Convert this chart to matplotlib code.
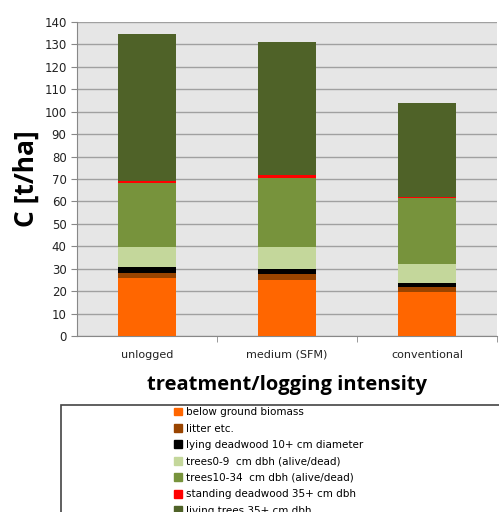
import matplotlib.pyplot as plt
import matplotlib.patches as mpatches
import numpy as np

# treatments on the x axis
treatments = ['unlogged', 'medium (SFM)', 'conventional']

# carbon pools, stacked bottom to top [t/ha]
pools = ['below ground biomass', 'litter etc.', 'lying deadwood 10+ cm diameter',
         'trees0-9  cm dbh (alive/dead)', 'trees10-34  cm dbh (alive/dead)',
         'standing deadwood 35+ cm dbh', 'living trees 35+ cm dbh']
below_ground = [25.7, 24.9, 19.6]
litter = [2.2, 2.6, 2.1]
lying_deadwood = [2.7, 2.2, 1.8]
trees_0_9 = [8.9, 9.8, 8.4]
trees_10_34 = [28.8, 31.0, 29.7]
standing_deadwood = [0.9, 1.2, 0.5]
living_35 = [65.4, 59.4, 42.0]

colors = ['#ff6600', '#994400', '#000000', '#c4d79b', '#77933c', '#ff0000', '#4f6228']

series = [below_ground, litter, lying_deadwood, trees_0_9, trees_10_34,
          standing_deadwood, living_35]

fig = plt.figure(figsize=(4.99, 5.12), dpi=100)
ax = fig.add_axes([77 / 499, 1 - 336 / 512, 420 / 499, 314 / 512])
ax.set_facecolor('#e6e6e6')

x = np.arange(len(treatments))
bottom = np.zeros(len(treatments))
for vals, c in zip(series, colors):
    ax.bar(x, vals, bottom=bottom, width=0.41, color=c, zorder=3)
    bottom += np.array(vals)

ax.set_xlim(-0.5, 2.5)
ax.set_ylim(0, 140)
ax.set_yticks(np.arange(0, 141, 10))
ax.set_xticks(x)
ax.set_xticklabels(treatments, fontsize=8, color='#222222')
ax.set_xticks([0.5, 1.5, 2.5], minor=True)
ax.tick_params(axis='x', which='major', length=0, pad=10)
ax.tick_params(axis='x', which='minor', length=4, color='#888888')
ax.tick_params(axis='y', length=4, color='#888888', labelsize=8.5, labelcolor='#222222')
ax.grid(axis='y', color='#a0a0a0', linewidth=1.0, zorder=0)
for s in ['top', 'right']:
    ax.spines[s].set_visible(False)
ax.spines['left'].set_color('#888888')
ax.spines['bottom'].set_color('#888888')
ax.axhline(140, color='#999999', linewidth=1.4, zorder=1)

ax.set_ylabel('C [t/ha]', fontsize=19, fontweight='bold', family='Open Sans', labelpad=3)
ax.set_xlabel('treatment/logging intensity', fontsize=14.5, fontweight='bold',
              family='Open Sans', labelpad=11)

# legend box below the chart, running off the figure edge
box = mpatches.Rectangle((61 / 499, -0.05), 0.95, 1 - 405 / 512 + 0.05,
                         transform=fig.transFigure, facecolor='white',
                         edgecolor='#444444', linewidth=1.2)
fig.patches.append(box)

handles = [mpatches.Patch(color=c) for c in colors]
fig.legend(handles, pools, loc='upper left',
           bbox_to_anchor=(171 / 499, 1 - 404 / 512), frameon=False,
           fontsize=7.5, handlelength=0.8, handleheight=0.8, handletextpad=0.3,
           labelspacing=0.62, borderaxespad=0, borderpad=0.3)

fig.savefig('out.png', dpi=100)
